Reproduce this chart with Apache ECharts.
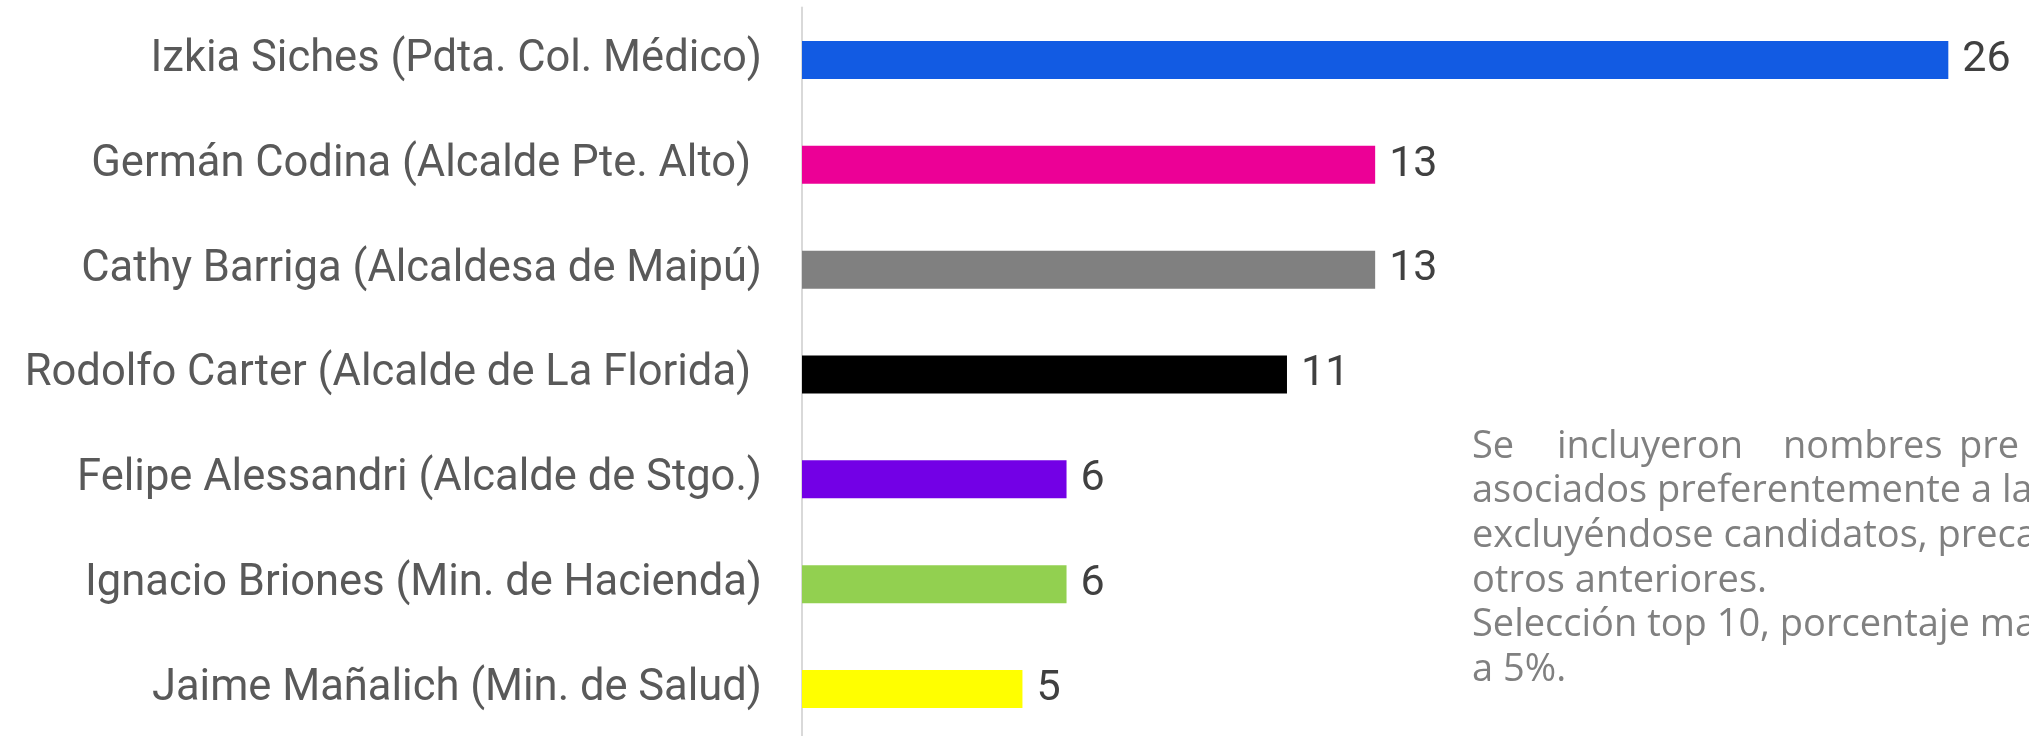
<!DOCTYPE html>
<html>
<head>
<meta charset="utf-8">
<script src="https://cdn.jsdelivr.net/npm/echarts@6/dist/echarts.min.js"></script>
<style>
  html, body { margin: 0; padding: 0; background: #ffffff; }
  #chart { width: 2029px; height: 736px; }
</style>
</head>
<body>
<div id="chart"></div>
<script>
// Personas mencionadas (%), de arriba hacia abajo
const categories = [
  'Izkia Siches (Pdta. Col. Médico)',
  'Germán Codina (Alcalde Pte. Alto) ',
  'Cathy Barriga (Alcaldesa de Maipú)',
  'Rodolfo Carter (Alcalde de La Florida) ',
  'Felipe Alessandri (Alcalde de Stgo.)',
  'Ignacio Briones (Min. de Hacienda)',
  'Jaime Mañalich (Min. de Salud)'
];
const values = [26, 13, 13, 11, 6, 6, 5];
const barColors = ['#125BE3', '#EC0096', '#808080', '#000000', '#7300E6', '#92D050', '#FFFF00'];

// Nota al pie (primera línea justificada, palabra por palabra)
const noteFirstLine = ['Se', 'incluyeron', 'nombres', 'pre'];
const noteLines = [
  'asociados preferentemente a la',
  'excluyéndose candidatos, preca',
  'otros anteriores.',
  'Selección top 10, porcentaje ma',
  'a 5%.'
];

const chart = echarts.init(document.getElementById('chart'), null, { renderer: 'canvas' });

const noteFont = { fontFamily: 'Open Sans', fontSize: 38, fontWeight: 400, fill: '#808080' };
const noteLeft = 1472;
const noteFirstCenter = 447;
const noteLineHeight = 44.6;
const firstLineX = [1472, 1557, 1783, 1959];

const graphics = [];
noteFirstLine.forEach((w, i) => {
  graphics.push({
    type: 'text', x: firstLineX[i], y: noteFirstCenter, silent: true,
    style: Object.assign({ text: w, verticalAlign: 'middle' }, noteFont)
  });
});
noteLines.forEach((line, i) => {
  graphics.push({
    type: 'text', x: noteLeft, y: noteFirstCenter + (i + 1) * noteLineHeight, silent: true,
    style: Object.assign({ text: line, verticalAlign: 'middle' }, noteFont)
  });
});

chart.setOption({
  backgroundColor: '#ffffff',
  animation: false,
  grid: {
    left: 802, top: 7.5, width: 1234.5, height: 734,
    containLabel: false, outerBoundsMode: 'none'
  },
  xAxis: {
    type: 'value', min: 0, max: 28, show: false,
    splitLine: { show: false }
  },
  yAxis: {
    type: 'category',
    data: categories,
    inverse: true,
    axisLine: { show: true, lineStyle: { color: '#D9D9D9', width: 2 } },
    axisTick: { show: false },
    axisLabel: {
      margin: 40,
      fontFamily: 'Roboto',
      fontSize: 43.5,
      color: '#595959'
    }
  },
  series: [{
    type: 'bar',
    data: values.map((v, i) => ({ value: v, itemStyle: { color: barColors[i] } })),
    barWidth: 38,
    label: {
      show: true,
      position: 'right',
      distance: 14,
      fontFamily: 'Roboto',
      fontSize: 43,
      color: '#404040'
    }
  }],
  graphic: graphics
});
</script>
</body>
</html>
